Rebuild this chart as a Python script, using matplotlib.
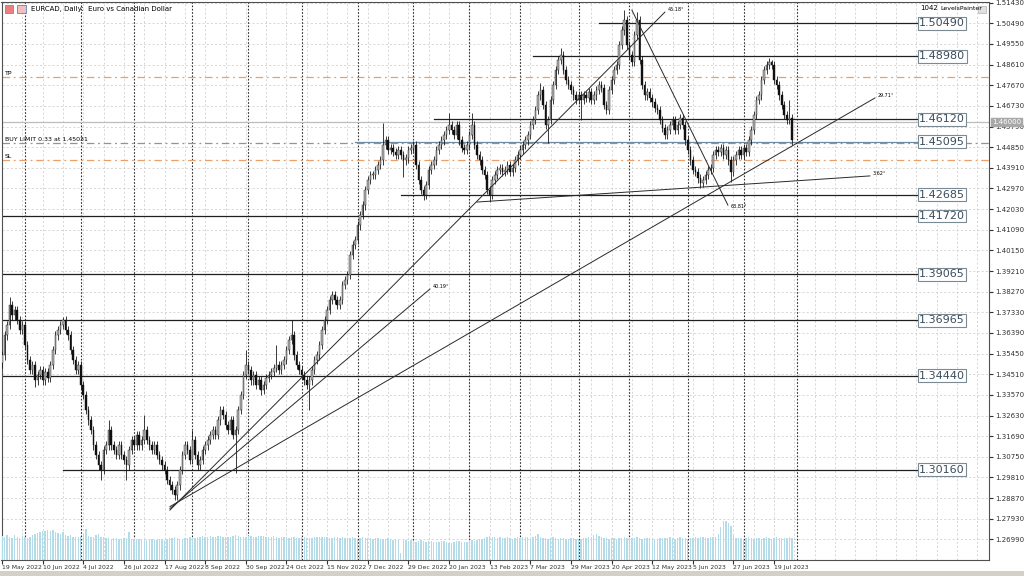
import numpy as np
import pandas as pd
import matplotlib
matplotlib.use("Agg")
import matplotlib.pyplot as plt
from matplotlib.patches import Rectangle
from matplotlib.transforms import blended_transform_factory

# EURCAD daily closes, 19 May 2022 onwards (one value per bar)
first_open = 1.3500
closes = [
    1.3538, 1.3629, 1.3675, 1.3766, 1.3720, 1.3743, 1.3698, 1.3652, 1.3675, 1.3584,
    1.3516, 1.3470, 1.3493, 1.3424, 1.3447, 1.3470, 1.3424, 1.3461, 1.3434, 1.3493,
    1.3561, 1.3629, 1.3652, 1.3675, 1.3698, 1.3652, 1.3629, 1.3561, 1.3516, 1.3470,
    1.3493, 1.3402, 1.3356, 1.3288, 1.3242, 1.3197, 1.3128, 1.3083, 1.3037, 1.3015,
    1.3106, 1.3128, 1.3197, 1.3128, 1.3106, 1.3083, 1.3128, 1.3083, 1.3060, 1.3037,
    1.3106, 1.3151, 1.3128, 1.3174, 1.3128, 1.3151, 1.3197, 1.3151, 1.3128, 1.3106,
    1.3128, 1.3083, 1.3060, 1.3037, 1.3015, 1.2969, 1.2946, 1.2924, 1.2901, 1.2946,
    1.3015, 1.3083, 1.3128, 1.3106, 1.3060, 1.3151, 1.3083, 1.3037, 1.3060, 1.3106,
    1.3128, 1.3151, 1.3174, 1.3197, 1.3174, 1.3242, 1.3288, 1.3265, 1.3220, 1.3197,
    1.3242, 1.3174, 1.3197, 1.3288, 1.3356, 1.3447, 1.3493, 1.3470, 1.3424, 1.3447,
    1.3402, 1.3424, 1.3379, 1.3402, 1.3434, 1.3447, 1.3461, 1.3479, 1.3493, 1.3470,
    1.3493, 1.3516, 1.3561, 1.3607, 1.3629, 1.3538, 1.3493, 1.3470, 1.3447, 1.3424,
    1.3402, 1.3424, 1.3470, 1.3516, 1.3538, 1.3584, 1.3652, 1.3698, 1.3743, 1.3789,
    1.3812, 1.3789, 1.3766, 1.3789, 1.3857, 1.3880, 1.3903, 1.3994, 1.4039, 1.4062,
    1.4130, 1.4176, 1.4221, 1.4290, 1.4335, 1.4358, 1.4358, 1.4381, 1.4404, 1.4426,
    1.4495, 1.4517, 1.4472, 1.4481, 1.4463, 1.4449, 1.4472, 1.4449, 1.4426, 1.4435,
    1.4472, 1.4481, 1.4495, 1.4404, 1.4335, 1.4290, 1.4267, 1.4313, 1.4381, 1.4404,
    1.4426, 1.4472, 1.4495, 1.4517, 1.4540, 1.4563, 1.4586, 1.4563, 1.4540, 1.4586,
    1.4517, 1.4481, 1.4472, 1.4495, 1.4540, 1.4586, 1.4495, 1.4449, 1.4426, 1.4381,
    1.4358, 1.4290, 1.4267, 1.4335, 1.4358, 1.4381, 1.4390, 1.4372, 1.4381, 1.4404,
    1.4372, 1.4390, 1.4426, 1.4449, 1.4472, 1.4495, 1.4517, 1.4540, 1.4586, 1.4609,
    1.4654, 1.4722, 1.4745, 1.4677, 1.4586, 1.4609, 1.4700, 1.4768, 1.4836, 1.4882,
    1.4905, 1.4836, 1.4791, 1.4768, 1.4745, 1.4722, 1.4700, 1.4722, 1.4700, 1.4722,
    1.4709, 1.4736, 1.4700, 1.4722, 1.4745, 1.4768, 1.4754, 1.4677, 1.4654, 1.4745,
    1.4791, 1.4836, 1.4859, 1.4950, 1.5018, 1.5064, 1.4950, 1.4905, 1.4873, 1.4996,
    1.5064, 1.4882, 1.4768, 1.4722, 1.4736, 1.4709, 1.4690, 1.4663, 1.4654, 1.4609,
    1.4572, 1.4540, 1.4563, 1.4586, 1.4609, 1.4563, 1.4586, 1.4618, 1.4586, 1.4517,
    1.4472, 1.4426, 1.4381, 1.4372, 1.4344, 1.4322, 1.4335, 1.4358, 1.4381, 1.4390,
    1.4449, 1.4472, 1.4463, 1.4481, 1.4449, 1.4472, 1.4426, 1.4372, 1.4426, 1.4449,
    1.4472, 1.4449, 1.4481, 1.4463, 1.4517, 1.4563, 1.4631, 1.4700, 1.4722, 1.4791,
    1.4836, 1.4859, 1.4873, 1.4859, 1.4791, 1.4768, 1.4722, 1.4677, 1.4631, 1.4609,
    1.4618, 1.4517,
]

# wick lengths in pips (default and notable bars)
wick_default = 20
upper_wick = {3: 36, 24: 14, 42: 45, 56: 68, 75: 45, 96: 68, 108: 90, 114: 68,
              150: 100, 176: 55, 185: 55, 212: 32, 220: 32, 245: 45, 250: 36,
              303: 10, 310: 82}
lower_wick = {13: 32, 39: 45, 49: 68, 68: 23, 69: 23, 92: 173, 102: 23, 121: 114,
              158: 77, 166: 23, 192: 32, 215: 82, 228: 91, 275: 23, 287: 45, 311: 23}

volumes = [
    105, 98, 110, 102, 95, 108, 100, 97, 104, 99,
    96, 101, 108, 112, 118, 122, 125, 128, 132, 126,
    130, 124, 118, 112, 120, 108, 104, 110, 98, 102,
    100, 106, 112, 135, 104, 98, 100, 108, 112, 102,
    98, 96, 94, 92, 95, 97, 93, 90, 94, 96,
    120, 92, 90, 88, 91, 93, 89, 87, 90, 92,
    88, 86, 90, 92, 89, 91, 94, 96, 98, 95,
    92, 90, 95, 97, 100, 98, 96, 99, 101, 103,
    100, 102, 104, 101, 99, 103, 105, 102, 100, 98,
    101, 104, 107, 103, 100, 98, 102, 105, 103, 101,
    99, 103, 106, 104, 100, 98, 101, 103, 99, 97,
    100, 102, 98, 96, 99, 101, 97, 95, 98, 100,
    96, 94, 97, 99, 101, 98, 100, 102, 99, 97,
    95, 98, 100, 97, 99, 96, 94, 97, 99, 95,
    93, 96, 98, 95, 97, 94, 92, 95, 97, 93,
    90, 92, 94, 91, 89, 92, 88, 30, 85, 87,
    84, 86, 82, 80, 83, 85, 81, 78, 82, 84,
    80, 77, 79, 82, 84, 80, 76, 74, 78, 81,
    83, 79, 77, 80, 85, 88, 84, 86, 90, 92,
    95, 98, 105, 102, 100, 97, 99, 96, 94, 98,
    96, 93, 95, 98, 97, 100, 102, 99, 96, 98,
    104, 112, 100, 97, 95, 93, 96, 98, 94, 92,
    95, 97, 93, 91, 94, 96, 92, 90, 93, 95,
    97, 99, 102, 108, 112, 106, 100, 97, 95, 93,
    96, 94, 92, 95, 97, 99, 96, 94, 97, 95,
    98, 96, 93, 95, 97, 94, 92, 90, 93, 95,
    97, 94, 96, 98, 95, 93, 97, 99, 96, 94,
    92, 95, 97, 99, 96, 98, 100, 97, 95, 98,
    98, 100, 112, 145, 168, 172, 160, 150, 110, 96,
    97, 95, 93, 96, 98, 94, 92, 95, 97, 93,
    96, 98, 95, 93, 97, 99, 96, 94, 97, 95,
    98, 96,
]

# horizontal levels (LevelsPainter) and the bar they start from
levels = [1.50490, 1.48980, 1.46120, 1.45095, 1.42685, 1.41720, 1.39065, 1.36965, 1.34440, 1.30160]
level_from = [235, 209, 170, 139, 157, -1, -1, -1, -1, 24]
tp_price = 1.48044
sl_price = 1.44264
buy_limit = 1.45031
bid_price = 1.46000

# trend lines: (bar1, price1, bar2, price2, label)
trend_lines = [
    (66.1, 1.2832, 261.0, 1.5100, "45.18°"),
    (66.1, 1.2839, 168.5, 1.3839, "40.19°"),
    (66.1, 1.2848, 343.7, 1.4709, "29.71°"),
    (187.0, 1.4235, 341.7, 1.4354, "3.62°"),
    (248.0, 1.5109, 285.8, 1.4221, "63.81°"),
]

closes = np.array(closes)
n = len(closes)
idx = np.arange(n)
dates = pd.bdate_range("2022-05-19", periods=n + 3)
opens = np.r_[first_open, closes[:-1]]
up = np.array([upper_wick.get(i, wick_default) for i in idx]) * 1e-4
dn = np.array([lower_wick.get(i, wick_default) for i in idx]) * 1e-4
highs = np.maximum(opens, closes) + up
lows = np.minimum(opens, closes) - dn

fig = plt.figure(figsize=(10.24, 5.76), dpi=100)
ax = fig.add_axes([1.5 / 1024, 16 / 576, 987.5 / 1024, 558 / 576])
ax.set_xlim(-0.2, 388.6)
ax.set_ylim(1.2605, 1.5146)

# grid
yt = 1.26990 + 0.0094 * np.arange(27)
ax.set_yticks(yt)
ax.set_yticklabels([f"{v:.5f}" for v in yt])
for y in yt:
    ax.axhline(y, color="#c8c8c8", lw=0.5, ls=(0, (3, 3)), zorder=0)
for x in np.arange(0, 389, 8):
    ax.axvline(x, color="#c8c8c8", lw=0.5, ls=(0, (3, 3)), zorder=0)
sep = [i for i in range(1, len(dates)) if dates[i].month != dates[i - 1].month]
for x in sep:
    ax.axvline(x, color="#303030", lw=0.8, ls=(0, (1.5, 1.5)), zorder=0.5)

# volumes
vax = ax.twinx()
vax.bar(idx, volumes, width=0.55, color="#b3dbe8", zorder=1)
vax.set_ylim(0, 2430)
vax.axis("off")
vax.set_xlim(ax.get_xlim())

# candles
ax.vlines(idx, lows, highs, color="#1a1a1a", lw=0.6, zorder=3)
bull = closes >= opens
body_h = np.maximum(np.abs(closes - opens), 0.0003)
body_b = np.minimum(opens, closes)
ax.bar(idx[bull], body_h[bull], bottom=body_b[bull], width=0.62,
       color="#b4b4b4", edgecolor="#1a1a1a", linewidth=0.3, zorder=4)
ax.bar(idx[~bull], body_h[~bull], bottom=body_b[~bull], width=0.62,
       color="#101010", edgecolor="#101010", linewidth=0.3, zorder=4)

# order lines
dd = (0, (6, 3, 1.5, 3))
ax.axhline(bid_price, color="#bdbdbd", lw=0.9, zorder=1)
ax.axhline(tp_price, color="#e9a06a", lw=0.9, ls=dd, zorder=2)
ax.axhline(sl_price, color="#e9a06a", lw=0.9, ls=dd, zorder=2)
ax.axhline(buy_limit, color="#7d98b3", lw=0.9, ls=dd, zorder=2)
ax.text(1, tp_price + 0.0006, "TP", fontsize=4.5, va="bottom", ha="left")
ax.text(1, buy_limit + 0.0006, "BUY LIMIT 0.33 at 1.45031", fontsize=4.5, va="bottom", ha="left")
ax.text(1, sl_price + 0.0006, "SL", fontsize=4.5, va="bottom", ha="left")

# levels
box_x = 360.6
for lv, start in zip(levels, level_from):
    col = "#6f8aa3" if lv == 1.45095 else "#202020"
    ax.plot([start, box_x], [lv, lv], color=col, lw=0.9, zorder=2)
    ax.text(box_x + 0.5, lv, f"{lv:.5f}", fontsize=8, color="#3b4d5c", va="center", ha="left",
            zorder=6, bbox=dict(boxstyle="square,pad=0.12", fc="white", ec="#7b8a92", lw=0.8))

# trend lines
for x1, y1, x2, y2, lab in trend_lines:
    ax.plot([x1, x2], [y1, y2], color="#2a2a2a", lw=0.7, zorder=5)
    ax.annotate(lab, (x2, y2), xytext=(2, 2 if lab != "63.81°" else -1), textcoords="offset points",
                fontsize=3.5, va="center", ha="left", zorder=6)

# axes style
ax.yaxis.tick_right()
ax.tick_params(axis="y", length=3, labelsize=5, pad=1.5, colors="#303030")
ticks_x = idx[::16]
ax.set_xticks(ticks_x)
ax.set_xticklabels([f"{d.day} {d:%b %Y}" for d in dates[ticks_x]])
for lab in ax.get_xticklabels():
    lab.set_ha("left")
ax.tick_params(axis="x", length=3, labelsize=4.4, pad=0.8, colors="#303030")
for s in ax.spines.values():
    s.set_color("#505050")
    s.set_linewidth(0.8)

# price tag on the axis
tr = blended_transform_factory(ax.transAxes, ax.transData)
ax.text(1.003, bid_price, "1.46000", transform=tr, fontsize=5, color="white", va="center", ha="left",
        zorder=7, bbox=dict(boxstyle="square,pad=0.2", fc="#a8a8a8", ec="#a8a8a8"), clip_on=False)

# header texts
fig.text(31 / 1024, 1 - 9 / 576, "EURCAD, Daily:  Euro vs Canadian Dollar", fontsize=5, va="center")
fig.patches.append(Rectangle((5 / 1024, 1 - 13 / 576), 8 / 1024, 8 / 576, transform=fig.transFigure,
                             fc="#e88080", ec="#6080c0", lw=0.5))
fig.patches.append(Rectangle((17 / 1024, 1 - 13 / 576), 9 / 1024, 8 / 576, transform=fig.transFigure,
                             fc="#f0c0c0", ec="#5070b0", lw=0.5))
fig.text(920 / 1024, 1 - 8 / 576, "1042", fontsize=5, va="center")
fig.text(940 / 1024, 1 - 9 / 576, "LevelsPainter", fontsize=4.5, va="center")
fig.patches.append(Rectangle((978 / 1024, 1 - 13 / 576), 8 / 1024, 7 / 576, transform=fig.transFigure,
                             fc="#e0e0e0", ec="#b0b0b0", lw=0.5))
fig.patches.append(Rectangle((0, 0), 1, 5 / 576, transform=fig.transFigure, fc="#d4d0c8", ec="none"))

fig.savefig("out.png", dpi=100)
